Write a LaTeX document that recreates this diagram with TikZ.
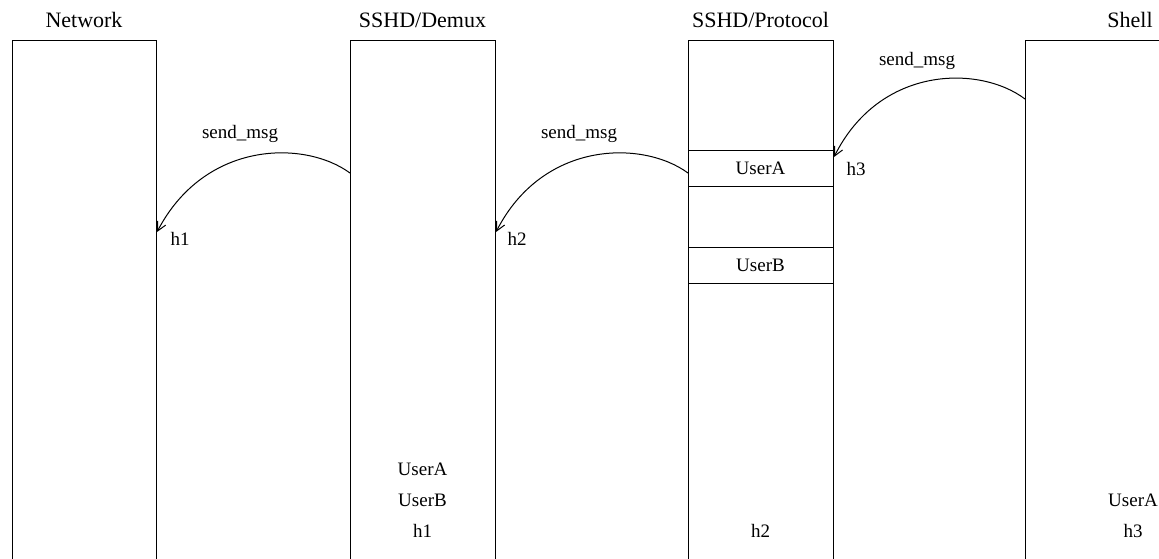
\documentclass[tikz,border=0pt]{standalone}
\usepackage{fontspec}
\setmainfont{Liberation Serif}
\usetikzlibrary{arrows.meta}
\begin{document}
\begin{tikzpicture}[x=1pt,y=-1pt,
  col/.style={draw, line width=1pt},
  title/.style={font=\fontsize{22}{24}\selectfont, anchor=base, inner sep=0pt},
  lbl/.style={font=\fontsize{19}{22}\selectfont, anchor=base, inner sep=0pt},
  slot/.style={draw, line width=1pt, minimum width=145pt, minimum height=36pt, inner sep=0pt, font=\fontsize{19}{22}\selectfont},
  msg/.style={-{Straight Barb[length=9pt,width=9pt]}, line width=1pt}]
\useasboundingbox (0,0) rectangle (1159,558);
% columns
\draw[col] (12,565) -- (12,40) -- (156,40) -- (156,565);
\draw[col] (350,565) -- (350,40) -- (495,40) -- (495,565);
\draw[col] (688,565) -- (688,40) -- (833,40) -- (833,565);
\draw[col] (1025,565) -- (1025,40) -- (1170,40);
% titles
\node[title] (tnet) at (84,27) {Network};
\node[title] (tdem) at (422.5,27) {SSHD/Demux};
\node[title] (tpro) at (760.5,27) {SSHD/Protocol};
\node[title] (tsh) at (1130,27) {Shell};
% protocol slots
\node[slot] (ua) at (760.5,168) {UserA};
\node[slot] (ub) at (760.5,265) {UserB};
% arrows
\coordinate (s1) at (350,173); \coordinate (e1) at (157,232);
\coordinate (s2) at (688,173); \coordinate (e2) at (496,232);
\coordinate (s3) at (1025,99); \coordinate (e3) at (834,157);
\draw[msg] (s1) .. controls (305,140) and (205,140) .. (e1);
\draw[msg] (s2) .. controls (643,140) and (543,140) .. (e2);
\draw[msg] (s3) .. controls (980,65) and (880,65) .. (e3);
% arrow labels
\node[lbl] (m1) at (240,138) {send\_msg};
\node[lbl] (m2) at (579,138) {send\_msg};
\node[lbl] (m3) at (917,65) {send\_msg};
\node[lbl] (h1a) at (180,245) {h1};
\node[lbl] (h2a) at (517,245) {h2};
\node[lbl] (h3a) at (856,175) {h3};
% bottom labels
\node[lbl] (dua) at (422.5,475) {UserA};
\node[lbl] (dub) at (422.5,506) {UserB};
\node[lbl] (dh) at (422.5,537) {h1};
\node[lbl] (ph) at (760.5,537) {h2};
\node[lbl] (sua) at (1133,506) {UserA};
\node[lbl] (sh) at (1133,537) {h3};
\end{tikzpicture}
\end{document}
